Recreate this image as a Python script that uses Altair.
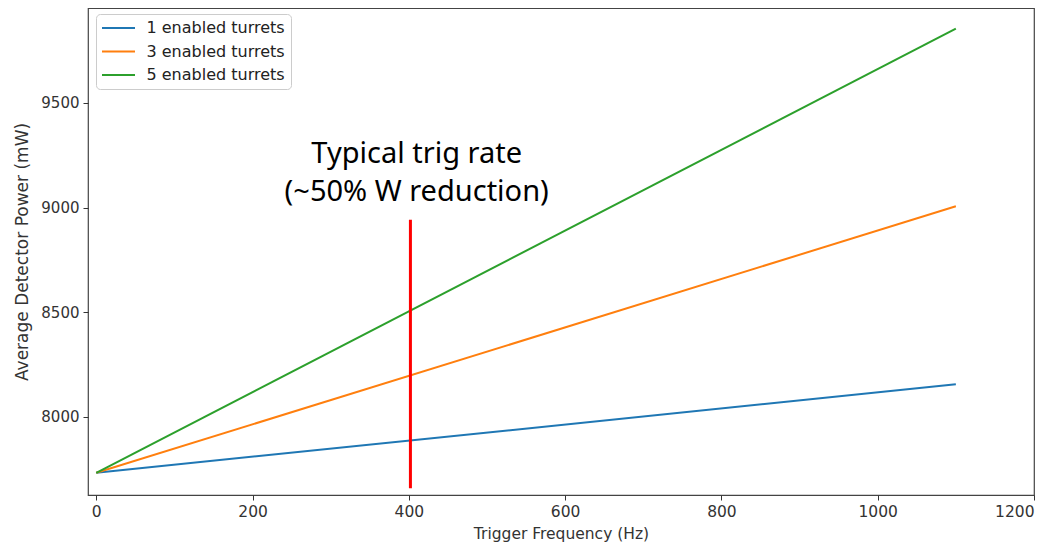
import altair as alt
import pandas as pd

# ---- data ----
series_names = ["1 enabled turrets", "3 enabled turrets", "5 enabled turrets"]
series_colors = ["#1f77b4", "#ff7f0e", "#2ca02c"]
freq_hz = [0, 1100]
power_1 = [7733, 8156]
power_3 = [7733, 9006]
power_5 = [7733, 9854]

marker_x = [402]
marker_y_low = [7659]
marker_y_high = [8942]

ann_lines = ["Typical trig rate", "(~50% W reduction)"]
ann_x = [410, 410]
ann_y = [9256, 9073]

x_ticks = [0, 200, 400, 600, 800, 1000, 1200]
y_ticks = [8000, 8500, 9000, 9500]

# ---- tables ----
rows = []
for name, vals in zip(series_names, [power_1, power_3, power_5]):
    for f, p in zip(freq_hz, vals):
        rows.append({"freq": f, "power": p, "series": name})
lines_df = pd.DataFrame(rows)
rule_df = pd.DataFrame({"x": marker_x, "y": marker_y_low, "y2": marker_y_high})
ann_df = pd.DataFrame({"x": ann_x, "y": ann_y, "text": ann_lines})

xscale = alt.Scale(domain=[-10.6, 1200], nice=False, zero=False)
yscale = alt.Scale(domain=[7627, 9953], nice=False, zero=False)

axis_common = dict(
    grid=False, domain=False, tickColor="#333", tickSize=5, tickWidth=1, format="d",
    labelFont="DejaVu Sans", labelColor="#333",
    titleFont="DejaVu Sans", titleFontWeight="normal", titleColor="#333",
)

lines = alt.Chart(lines_df).mark_line(strokeWidth=2).encode(
    x=alt.X("freq:Q", scale=xscale,
            axis=alt.Axis(title="Trigger Frequency (Hz)", values=x_ticks, labelPadding=4,
                          labelFontSize=15.5, titleFontSize=15.5,
                          titlePadding=7, **axis_common)),
    y=alt.Y("power:Q", scale=yscale,
            axis=alt.Axis(title="Average Detector Power (mW)", values=y_ticks, labelPadding=4,
                          labelFontSize=15, titleFontSize=17,
                          titlePadding=9, **axis_common)),
    color=alt.Color("series:N",
                    scale=alt.Scale(domain=series_names, range=series_colors),
                    legend=alt.Legend(
                        title=None, orient="none", legendX=8, legendY=6,
                        fillColor="white", strokeColor="#cccccc", cornerRadius=4,
                        padding=6, symbolType="M-3,0L3,0", symbolSize=121,
                        symbolOffset=8.5,
                        symbolStrokeWidth=2, labelFont="DejaVu Sans", labelFontSize=16,
                        labelColor="#222", labelOffset=20, rowPadding=7.5,
                    )),
)

rule = alt.Chart(rule_df).mark_rule(color="#ff0000", strokeWidth=3).encode(
    x=alt.X("x:Q", scale=xscale),
    y=alt.Y("y:Q", scale=yscale),
    y2="y2:Q",
)

ann = alt.Chart(ann_df).mark_text(
    font="Noto Sans", fontSize=29, color="black", align="center", baseline="middle"
).encode(
    x=alt.X("x:Q", scale=xscale),
    y=alt.Y("y:Q", scale=yscale),
    text="text:N",
)

chart = (lines + rule + ann).properties(
    width=946, height=487,
    autosize=alt.AutoSizeParams(type="none"),
    padding={"left": 80, "top": 0, "right": 20, "bottom": 49},
).configure_view(stroke="#444", strokeWidth=1.2)

chart.save("out.html", embed_options={"renderer": "svg", "actions": False})
